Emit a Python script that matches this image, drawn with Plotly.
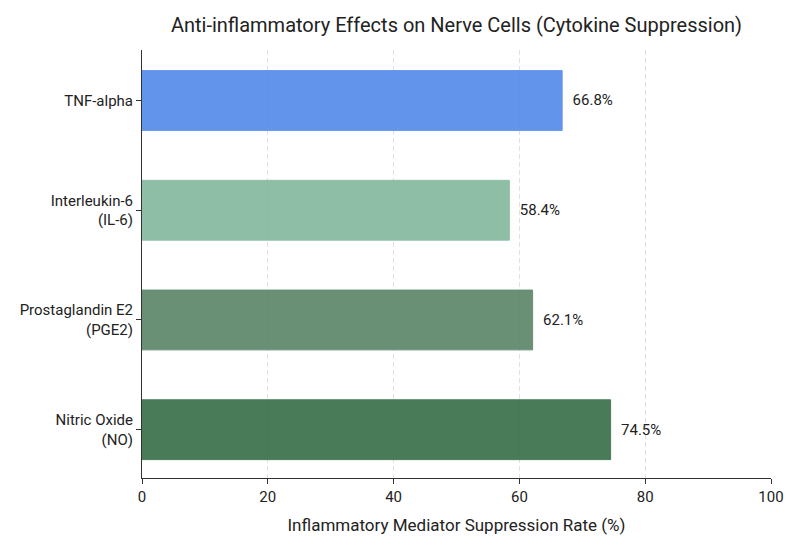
import plotly.graph_objects as go

# categories top to bottom
categories = ["TNF-alpha", "Interleukin-6<br>(IL-6)", "Prostaglandin E2<br>(PGE2)", "Nitric Oxide<br>(NO)"]
suppression = [66.8, 58.4, 62.1, 74.5]
bar_colors = ["#5389EB", "#82B89D", "#598467", "#366D46"]
x_ticks = [0, 20, 40, 60, 80, 100]

fig = go.Figure()
fig.add_trace(go.Bar(
    x=suppression,
    y=categories,
    orientation="h",
    width=0.545,
    marker=dict(color=bar_colors, opacity=0.9,
                line=dict(color=bar_colors, width=1)),
    text=[f"  {v}%" for v in suppression],
    textposition="outside",
    textfont=dict(size=15, color="#222222"),
    cliponaxis=False,
    hoverinfo="skip",
))

# page body adds 8px offset, so left/top margins are reduced by 8
fig.update_layout(
    width=800, height=550,
    margin=dict(l=129, r=37, t=42, b=80),
    paper_bgcolor="white",
    plot_bgcolor="white",
    font=dict(family="Roboto, Inter, sans-serif", size=15, color="#222222"),
    title=dict(text="Anti-inflammatory Effects on Nerve Cells (Cytokine Suppression)",
               x=0.5, xref="paper", xanchor="center", y=0.97, yanchor="middle",
               font=dict(size=20, color="#222222")),
    showlegend=False,
)
fig.update_xaxes(
    range=[0, 100],
    tickvals=x_ticks,
    title=dict(text="Inflammatory Mediator Suppression Rate (%)", font=dict(size=17), standoff=14),
    showgrid=True, gridcolor="#e0e0e0", griddash="5px,3px", gridwidth=1,
    showline=True, linecolor="#333333", linewidth=1,
    ticks="outside", ticklen=5, tickcolor="#333333",
    zeroline=False,
    tickfont=dict(size=15),
)
fig.update_yaxes(
    categoryorder="array", categoryarray=categories,
    autorange=False, range=[3.44, -0.46],
    showgrid=False,
    showline=True, linecolor="#333333", linewidth=1,
    ticks="outside", ticklen=5, tickcolor="#333333",
    tickfont=dict(size=15),
)

fig.write_html("out.html")
